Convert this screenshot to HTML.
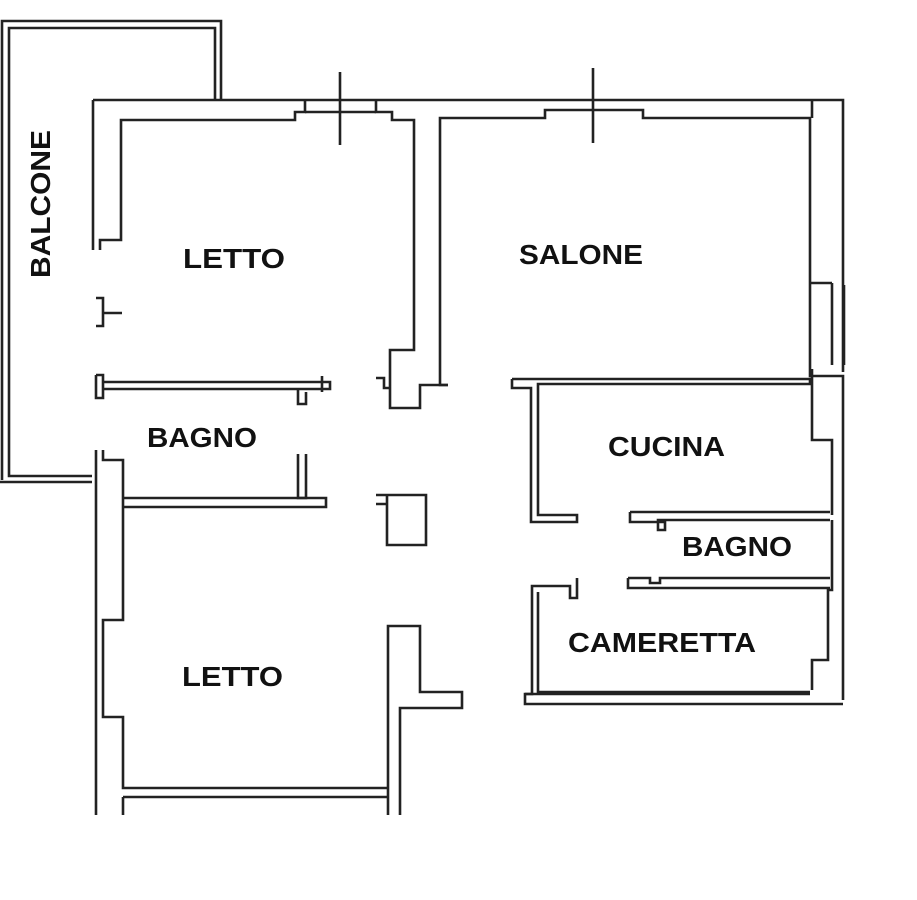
<!DOCTYPE html>
<html><head><style>
html,body{margin:0;padding:0;background:#fff;}
svg{display:block}
text{font-family:"Liberation Sans",Arial,sans-serif;font-weight:bold;font-size:28px;fill:#111;}
</style></head><body>
<svg width="917" height="900" viewBox="0 0 917 900" xmlns="http://www.w3.org/2000/svg">
<g fill="none" stroke="#222" stroke-width="2.6" stroke-linejoin="miter">
<polyline points="2,480 2,21 221,21 221,100"/>
<polyline points="92,476 9,476 9,28 215,28 215,100"/>
<line x1="0" y1="482" x2="92" y2="482"/>
<polyline points="93,100 843,100 843,372"/>
<polyline points="93,100 93,250"/>
<polyline points="100,250 100,240 121,240 121,120 295,120 295,112 305,112 305,101"/>
<line x1="305" y1="112" x2="376" y2="112"/>
<polyline points="376,101 376,112 392,112 392,120 414,120 414,350 390,350 390,408 420,408 420,385 448,385"/>
<polyline points="376,378 384,378 384,388 390,388"/>
<polyline points="448,385 440,385 440,118 545,118 545,110 630,110"/>
<polyline points="630,110 643,110 643,118 810,118 810,376 838,376"/>
<polyline points="838,376 843,376 843,700"/>
<polyline points="812,118 812,100"/>
<line x1="810" y1="283" x2="832" y2="283"/>
<line x1="832" y1="283" x2="832" y2="365"/>
<polyline points="96,298 103,298 103,326 96,326"/>
<line x1="103" y1="313" x2="122" y2="313"/>
<polyline points="96,375 103,375 103,398 96,398 96,375"/>
<polyline points="103,382 330,382 330,389 103,389"/>
<polyline points="322,376 322,392"/>
<polyline points="298,389 298,404 306,404 306,392"/>
<polyline points="298,454 298,498 306,498 306,454"/>
<polyline points="124,498 326,498 326,507 124,507"/>
<polyline points="96,450 96,815"/>
<polyline points="103,450 103,460 123,460 123,620 103,620 103,717 123,717 123,788 388,788"/>
<polyline points="123,797 123,815"/>
<line x1="123" y1="797" x2="388" y2="797"/>
<polyline points="376,495 387,495 387,545 426,545 426,495 387,495 387,504 376,504"/>
<polyline points="388,815 388,626 420,626 420,692 462,692 462,708 400,708 400,815"/>
<polyline points="512,379 810,379 810,384 538,384 538,515 577,515 577,522 531,522 531,388 512,388 512,379"/>
<polyline points="812,369 812,440 832,440 832,515"/>
<polyline points="630,512 830,512"/>
<polyline points="630,512 630,522 665,522 665,530 658,530 658,520 830,520"/>
<polyline points="628,578 628,588 830,588"/>
<polyline points="628,578 650,578 650,583 660,583 660,578 830,578"/>
<polyline points="832,520 832,590 828,590 828,660 812,660 812,690"/>
<polyline points="577,578 577,598 570,598 570,586 532,586 532,694 525,694 525,704 843,704"/>
<polyline points="538,592 538,692 810,692"/>
<polyline points="525,694 810,694"/>
<line x1="340" y1="72" x2="340" y2="145"/>
<line x1="593" y1="68" x2="593" y2="143"/>
<line x1="844" y1="285" x2="844" y2="365"/>
</g>
<text x="183" y="268" textLength="102" lengthAdjust="spacingAndGlyphs">LETTO</text>
<text x="519" y="264" textLength="124" lengthAdjust="spacingAndGlyphs">SALONE</text>
<text x="147" y="447" textLength="110" lengthAdjust="spacingAndGlyphs">BAGNO</text>
<text x="608" y="456" textLength="117" lengthAdjust="spacingAndGlyphs">CUCINA</text>
<text x="682" y="556" textLength="110" lengthAdjust="spacingAndGlyphs">BAGNO</text>
<text x="568" y="652" textLength="188" lengthAdjust="spacingAndGlyphs">CAMERETTA</text>
<text x="182" y="686" textLength="101" lengthAdjust="spacingAndGlyphs">LETTO</text>
<text transform="translate(50,204) rotate(-90)" x="-74" textLength="148" lengthAdjust="spacingAndGlyphs">BALCONE</text>
</svg>
</body></html>
